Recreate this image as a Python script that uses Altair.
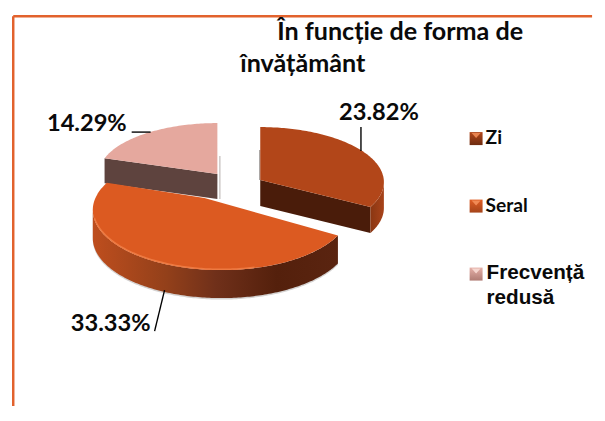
import math
import altair as alt
import pandas as pd

categories = ["Zi", "Seral", "Frecvență redusă"]
values = [23.82, 33.33, 14.29]
value_labels = ["23.82%", "33.33%", "14.29%"]
title_lines = ["În funcție de forma de", "învățământ"]

PW, PH = 589, 397      # plot size
AX, BX = 0.988, 11.9   # picture x = AX * plot x + BX
AY, BY = 0.985, 14.9   # picture y = AY * plot y + BY
FONT = "Lato"
total = sum(values)
spans = [v / total * 360 for v in values]
starts = [sum(spans[:i]) for i in range(3)]
# rim centre x, centre y, radius x, radius y, depth of each exploded slice
z = (261, 182, 124, 55, 26)
s = (222, 210, 129, 60, 28)
f = (218, 174, 119, 51, 25)
# slice tips (the perspective moves them off the rim centres)
z_tip = (261, 180)
s_tip = (205, 198)
f_tip = (218, 174)


def pt(g, a, drop=0):
    r = math.radians(a)
    return (g[0] + g[2] * math.sin(r), g[1] - g[3] * math.cos(r) + drop)


def rim(g, a0, a1, drop=0):
    n = max(2, int(abs(a1 - a0)))
    return [pt(g, a0 + (a1 - a0) * i / n, drop) for i in range(n + 1)]


def grad(stops, x2=1, y2=0):
    return alt.Gradient(gradient="linear", x1=0, y1=0, x2=x2, y2=y2,
                        stops=[alt.GradientStop(offset=o, color=c) for o, c in stops])


X_MAX = BX + AX * PW
Y_MAX = BY + AY * PH
x_s = alt.Scale(domain=[BX, X_MAX], range=[0, PW])
y_s = alt.Scale(domain=[BY, Y_MAX], range=[0, PH])


def poly(points, fill, opacity=1):
    df = pd.DataFrame({"x": [p[0] for p in points], "y": [p[1] for p in points],
                       "o": range(len(points))})
    return alt.Chart(df).mark_line(fill=fill, stroke=None, strokeWidth=0, fillOpacity=opacity,
                                   interpolate="linear-closed").encode(
        x=alt.X("x:Q", scale=x_s, axis=None),
        y=alt.Y("y:Q", scale=y_s, axis=None),
        order="o:Q",
    )


def seg(x1, y1, x2, y2, color="#000000", width=1.4):
    df = pd.DataFrame({"x": [x1, x2], "y": [y1, y2], "o": [0, 1]})
    return alt.Chart(df).mark_line(color=color, strokeWidth=width).encode(
        x=alt.X("x:Q", scale=x_s, axis=None), y=alt.Y("y:Q", scale=y_s, axis=None), order="o:Q")


def text(t, x, y, size, font=FONT):
    return alt.Chart(pd.DataFrame({"t": [t]})).mark_text(
        font=font, fontWeight="bold", fontSize=size, color="#0a0a0a", align="left", baseline="alphabetic"
    ).encode(x=alt.value((x - BX) / AX), y=alt.value((y - BY) / AY), text="t:N")


layers = []

# frame: left and top rules, as far up and left as the plot reaches
layers.append(seg(13.2, 16.2, X_MAX, 16.2, "#E2622D", 2.5))
layers.append(seg(13.2, 16.2, 13.2, Y_MAX, "#E2622D", 2.5))

a_z1 = starts[0] + spans[0] - 3       # 117 deg on the rim
a_s0 = starts[1] - 5                  # perspective widens the front slice
a_s1 = starts[1] + spans[1] + 9
a_f0 = starts[2]
a_f1 = starts[2] + spans[2]

# Frecventa redusa
fa = pt(f, a_f0)
layers.append(poly([(f[0] + 2, f[1] + f[4]), (f[0] + 3, f[1] + f[4]), (f[0] + 3, f[1] - 18), (f[0] + 2, f[1] - 18)], "#B5AFAC"))
layers.append(poly([fa, (fa[0], fa[1] + f[4]), (f_tip[0], f_tip[1] + f[4]), f_tip], "#5E433E"))
layers.append(poly([f_tip] + rim(f, a_f0, a_f1), "#E5A89E"))

# Zi
zb = pt(z, a_z1)
layers.append(poly([(z_tip[0] - 1, z_tip[1] - 30), (z_tip[0], z_tip[1] - 30), (z_tip[0], z_tip[1]), (z_tip[0] - 1, z_tip[1])], "#8C8683"))
layers.append(poly([z_tip, zb, (zb[0], zb[1] + z[4]), (z_tip[0], z_tip[1] + z[4])], "#4A1C0A"))
layers.append(poly(rim(z, 90, a_z1) + rim(z, a_z1, 90, z[4]),
                   grad([(0, "#8A3612"), (1, "#A8431A")])))
layers.append(poly([z_tip] + rim(z, 0, a_z1), "#B24619"))

# Seral
layers.append(poly(rim(s, a_s0, 270, 1.5) + rim(s, 270, a_s0, s[4] + 1.5), "#A9A6A4", 0.5))
layers.append(poly(rim(s, a_s0, 270) + rim(s, 270, a_s0, s[4]),
                   grad([(0, "#BE4E1E"), (0.3, "#93401A"), (0.5, "#70301A"), (0.75, "#54200C"), (1, "#5A2410")])))
layers.append(poly([s_tip] + rim(s, a_s0, a_s1), "#DC5A21"))
layers.append(poly(rim(s, 165, 262) + rim((s[0], s[1] - 1, s[2] - 1, s[3] - 0.5, 0), 262, 165),
                   "#EE7A42"))

# leader lines
layers.append(seg(362, 127, 362, 151))
layers.append(seg(132, 132, 151, 132))
layers.append(seg(165, 290, 155, 331))

# data labels
layers.append(text(value_labels[0], 340, 120, 24))
layers.append(text(value_labels[1], 71, 331, 24))
layers.append(text(value_labels[2], 47, 131, 24))

# title
layers.append(text(title_lines[0], 278, 40, 25.5))
layers.append(text(title_lines[1], 241, 72, 25.5))

# legend
swatches = [("#B24619", "#6E2C10", 132), ("#E05E25", "#A5441A", 199.5), ("#E5B0A8", "#B07C74", 267.5)]
tops = ["#E8834F", "#F08A55", "#F5D5CE"]
for (c1, c2, y), tc in zip(swatches, tops):
    layers.append(poly([(471, y), (484, y), (484, y + 13), (471, y + 13)], grad([(0, c1), (1, c2)], x2=0, y2=1)))
    layers.append(poly([(473, y + 1), (482, y + 1), (477.5, y + 6)], tc))
layers.append(text(categories[0], 487, 144, 19.5))
layers.append(text(categories[1], 487, 212, 19.5))
layers.append(text("Frecvență", 488, 279, 21, "Liberation Sans"))
layers.append(text("redusă", 488, 304, 21, "Liberation Sans"))

chart = alt.layer(*layers).properties(width=PW, height=PH, padding=0, background="#ffffff").configure_view(stroke=None)
chart.save("out.html", embed_options={"renderer": "svg", "actions": False})
